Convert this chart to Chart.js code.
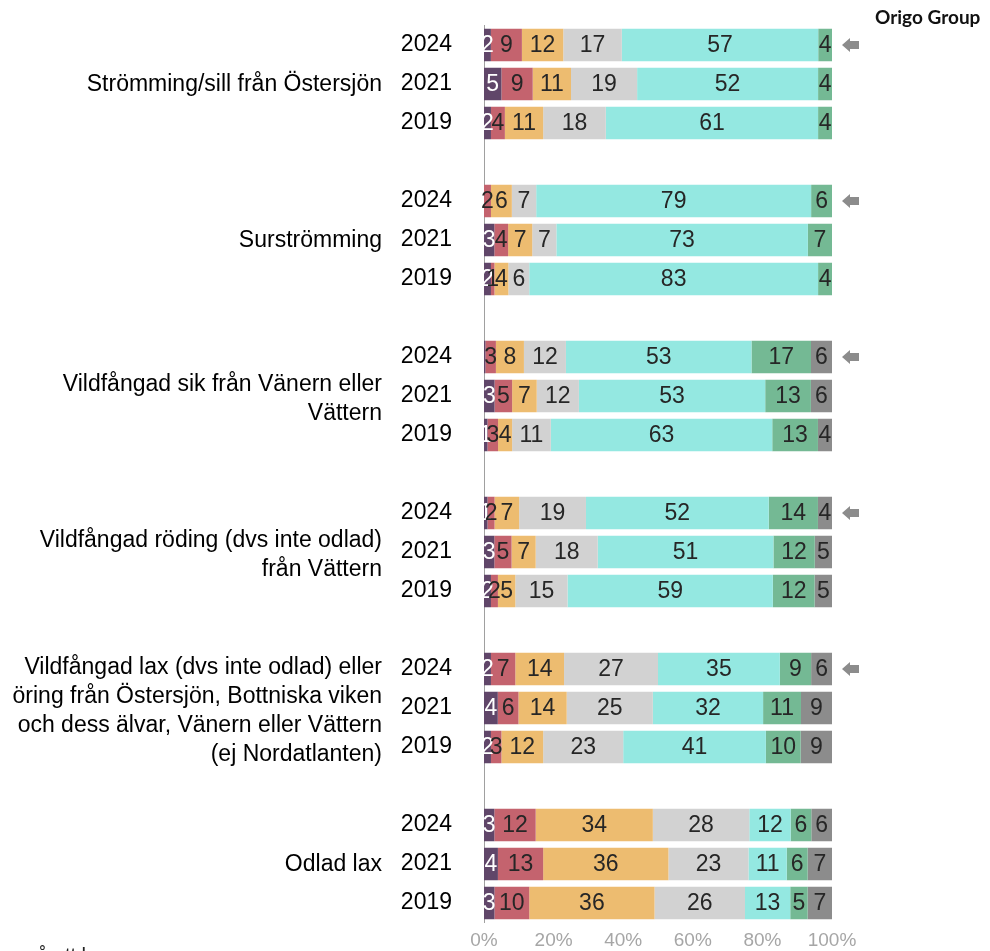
<!DOCTYPE html>
<html>
<head>
<meta charset="utf-8">
<script src="https://cdn.jsdelivr.net/npm/chart.js@4"></script>
<style>
  body { margin: 0; background: #fff; overflow: hidden; }
  #wrap { position: relative; width: 990px; height: 951px; }
  #logo { position: absolute; left: 875px; top: 5px; font: bold 19px Lato, sans-serif; color: #111; }
  #note { position: absolute; left: 26px; top: 944px; font: 20px "Liberation Sans", Arial, sans-serif; color: #222; white-space: nowrap; }
</style>
</head>
<body>
<div id="wrap">
  <canvas id="chart"></canvas>
  <div id="logo">Origo Group</div>
  <div id="note">på att ha</div>
</div>
<script>
// Survey answers per fish, three survey years each (stacked to 100 %)
const groups = [
  ["Strömming/sill från Östersjön"],
  ["Surströmming"],
  ["Vildfångad sik från Vänern eller", "Vättern"],
  ["Vildfångad röding (dvs inte odlad)", "från Vättern"],
  ["Vildfångad lax (dvs inte odlad) eller", "öring från Östersjön, Bottniska viken", "och dess älvar, Vänern eller Vättern", "(ej Nordatlanten)"],
  ["Odlad lax"],
];
const years = ["2024", "2021", "2019"];

// one value per group/year, order: group1 2024, 2021, 2019, group2 2024 ...
const ans1 = [2, 5, 2,   0, 3, 2,   0.4, 3, 1,   1, 3, 2,   2, 4, 2,   3, 4, 3];
const ans2 = [9, 9, 4,   2, 4, 1,   3, 5, 3,     2, 5, 2,   7, 6, 3,   12, 13, 10];
const ans3 = [12, 11, 11, 6, 7, 4,  8, 7, 4,     7, 7, 5,   14, 14, 12, 34, 36, 36];
const ans4 = [17, 19, 18, 7, 7, 6,  12, 12, 11,  19, 18, 15, 27, 25, 23, 28, 23, 26];
const ans5 = [57, 52, 61, 79, 73, 83, 53, 53, 63, 52, 51, 59, 35, 32, 41, 12, 11, 13];
const ans6 = [4, 4, 4,   6, 7, 4,   17, 13, 13,  14, 12, 12, 9, 11, 10, 6, 6, 5];
const ans7 = [0, 0, 0,   0, 0, 0,   6, 6, 4,     4, 5, 5,   6, 9, 9,   6, 7, 7];

const series = [ans1, ans2, ans3, ans4, ans5, ans6, ans7];
const colors = ["#604669", "#c4636e", "#edbc70", "#d2d2d2", "#94e8e1", "#74b994", "#8c8c8c"];
const arrowRows = [true, true, true, true, true, false]; // arrow marker on 2024 row

// build the row layout: three year rows per group, one empty row between groups
const rowLabels = [];
const rowIndex = [];     // data index for each row, null for spacer rows
const groupMid = [];     // row number of the middle year of each group
const arrowAt = [];
groups.forEach((g, gi) => {
  years.forEach((y, yi) => {
    if (yi === 1) groupMid.push(rowLabels.length);
    if (yi === 0 && arrowRows[gi]) arrowAt.push(rowLabels.length);
    rowLabels.push(y);
    rowIndex.push(gi * 3 + yi);
  });
  if (gi < groups.length - 1) { rowLabels.push(""); rowIndex.push(null); }
});

const rowSum = rowIndex.map(i => i === null ? null : series.reduce((s, a) => s + a[i], 0));

const datasets = series.map((arr, si) => ({
  label: "Svar " + (si + 1),
  data: rowIndex.map((i, r) => i === null ? null : arr[i] / rowSum[r] * 100),
  raw: rowIndex.map(i => i === null ? null : arr[i]),
  backgroundColor: colors[si],
  borderWidth: 0,
  barPercentage: 0.835,
  categoryPercentage: 1,
}));

const FONT = "'Liberation Sans', Arial, sans-serif";

const valueLabels = {
  id: "valueLabels",
  afterDatasetsDraw(chart) {
    const ctx = chart.ctx;
    ctx.save();
    ctx.font = "23px " + FONT;
    ctx.textAlign = "center";
    ctx.textBaseline = "middle";
    chart.data.datasets.forEach((ds, di) => {
      const meta = chart.getDatasetMeta(di);
      meta.data.forEach((bar, r) => {
        const v = ds.raw[r];
        if (v === null || v < 0.5) return;
        ctx.fillStyle = di === 0 ? "#ffffff" : "#262626";
        ctx.fillText(String(v), (bar.x + bar.base) / 2, bar.y + 1);
      });
    });
    ctx.restore();
  }
};

const groupLabels = {
  id: "groupLabels",
  afterDraw(chart) {
    const ctx = chart.ctx;
    const ys = chart.scales.y;
    ctx.save();
    ctx.font = "23px " + FONT;
    ctx.fillStyle = "#000";
    ctx.textAlign = "right";
    ctx.textBaseline = "middle";
    const lh = 29;
    groups.forEach((lines, gi) => {
      const cy = ys.getPixelForValue(groupMid[gi]) + (lines.length > 1 ? 2 : 0);
      lines.forEach((t, li) => {
        ctx.fillText(t, 382, cy + (li - (lines.length - 1) / 2) * lh + 1);
      });
    });
    // arrows pointing at the latest year
    ctx.fillStyle = "#8c8c8c";
    arrowAt.forEach(r => {
      const y = ys.getPixelForValue(r);
      ctx.beginPath();
      ctx.moveTo(842, y);
      ctx.lineTo(850, y - 7);
      ctx.lineTo(850, y - 4);
      ctx.lineTo(859, y - 4);
      ctx.lineTo(859, y + 4);
      ctx.lineTo(850, y + 4);
      ctx.lineTo(850, y + 7);
      ctx.closePath();
      ctx.fill();
    });
    ctx.restore();
  }
};

new Chart(document.getElementById("chart"), {
  type: "bar",
  data: { labels: rowLabels, datasets },
  options: {
    indexAxis: "y",
    responsive: true,
    maintainAspectRatio: false,
    animation: false,
    layout: { padding: { left: 0, right: 158, top: 25.5, bottom: 0 } },
    plugins: { legend: { display: false }, tooltip: { enabled: false } },
    scales: {
      x: {
        stacked: true, min: 0, max: 100,
        grid: { display: false, drawTicks: false },
        border: { display: false },
        ticks: { stepSize: 20, callback: v => v + "%", color: "#a6a6a6", font: { size: 19, family: FONT }, padding: 7, maxRotation: 0 },
        afterFit: s => { s.height = 28.5; s.paddingLeft = 0; s.paddingRight = 0; },
      },
      y: {
        stacked: true,
        grid: { display: false, drawTicks: false },
        border: { display: true, color: "#a0a0a0", width: 1 },
        ticks: { color: "#000", font: { size: 23, family: FONT }, padding: 32, autoSkip: false },
        afterFit: s => { s.width = 484; s.paddingTop = 0; s.paddingBottom = 0; },
      },
    },
  },
  plugins: [valueLabels, groupLabels],
});
</script>
</body>
</html>
